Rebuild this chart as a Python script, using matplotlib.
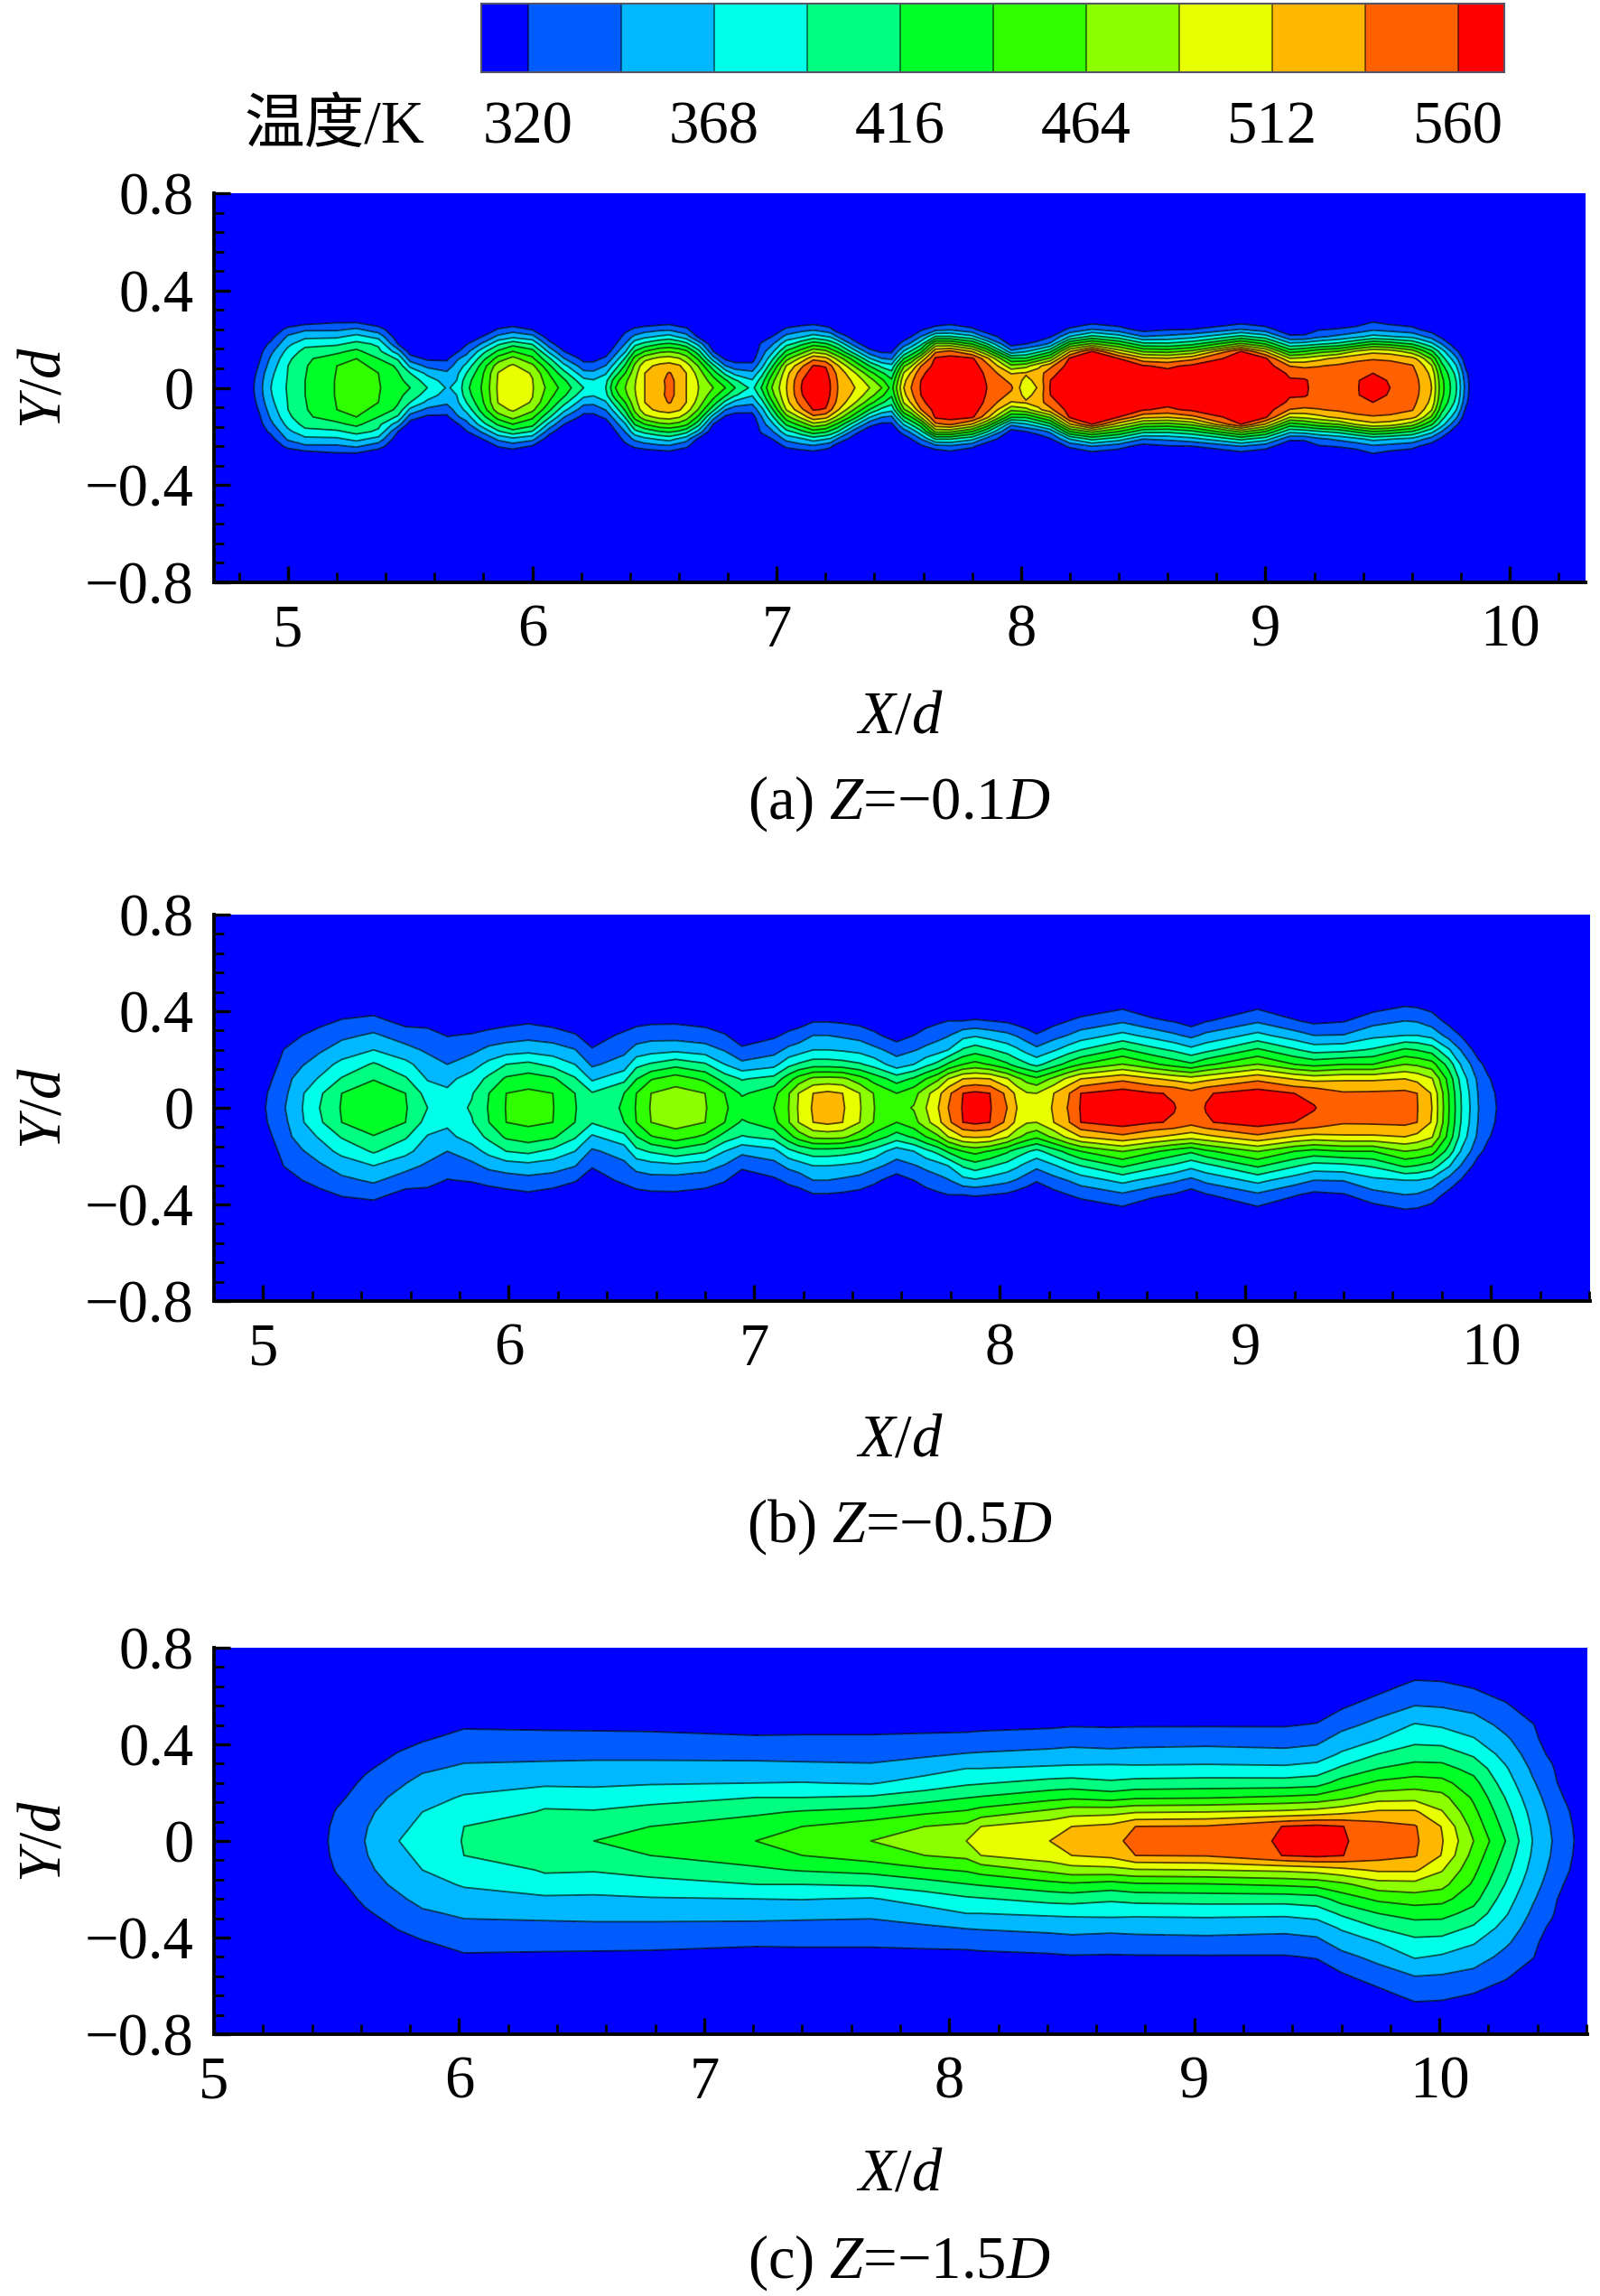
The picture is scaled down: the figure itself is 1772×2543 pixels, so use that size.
import matplotlib
matplotlib.use("Agg")
import matplotlib.pyplot as plt
import numpy as np
from matplotlib.ticker import MultipleLocator

plt.rcParams['font.family'] = ['Liberation Serif', 'Noto Sans CJK SC']
plt.rcParams['mathtext.fontset'] = 'custom'
plt.rcParams['mathtext.rm'] = 'Liberation Serif'
plt.rcParams['mathtext.it'] = 'Liberation Serif:italic'

W, H = 1772, 2543

# colour scale
levels = [320, 344, 368, 392, 416, 440, 464, 488, 512, 536, 560]
band_edges = [308, 320, 344, 368, 392, 416, 440, 464, 488, 512, 536, 560, 572]
band_colors = ['#0000ff', '#005cff', '#00b8ff', '#00ffe8', '#00ff80', '#00ff28',
               '#30ff00', '#8cff00', '#e8ff00', '#ffb800', '#ff6000', '#ff0000']
bar_ticks = [320, 368, 416, 464, 512, 560]

# temperature, each line: X station, then T at the half width rows in Y
y_a = [0, .03, .06, .09, .12, .15, .18, .21, .24, .27, .32]
t_a = [
    [4.60, 300, 300, 300, 300, 300, 300, 300, 300, 300, 300, 300],
    [4.82, 300, 300, 300, 300, 300, 300, 300, 300, 300, 300, 300],
    [4.86, 320, 318, 314, 308, 302, 300, 300, 300, 300, 300, 300],
    [4.93, 368, 366, 362, 355, 348, 338, 325, 312, 300, 300, 300],
    [5.00, 395, 394, 393, 392, 386, 376, 362, 348, 328, 302, 300],
    [5.07, 416, 416, 415, 414, 412, 400, 385, 362, 340, 310, 300],
    [5.20, 442, 442, 441, 440, 428, 410, 388, 364, 340, 318, 300],
    [5.28, 452, 450, 447, 444, 440, 422, 400, 376, 348, 318, 300],
    [5.37, 442, 441, 440, 436, 416, 398, 388, 360, 330, 305, 300],
    [5.45, 425, 422, 418, 410, 388, 355, 320, 305, 300, 300, 300],
    [5.50, 416, 408, 392, 362, 332, 308, 300, 300, 300, 300, 300],
    [5.57, 392, 380, 362, 338, 315, 300, 300, 300, 300, 300, 300],
    [5.65, 366, 358, 348, 332, 315, 300, 300, 300, 300, 300, 300],
    [5.69, 372, 368, 362, 352, 340, 315, 300, 300, 300, 300, 300],
    [5.73, 410, 405, 392, 375, 355, 335, 318, 300, 300, 300, 300],
    [5.80, 445, 443, 440, 430, 410, 385, 350, 322, 300, 300, 300],
    [5.86, 492, 491, 489, 478, 450, 420, 388, 350, 322, 302, 300],
    [5.92, 505, 504, 500, 492, 472, 440, 408, 362, 332, 302, 300],
    [6.00, 490, 489, 486, 470, 445, 425, 390, 352, 318, 300, 300],
    [6.07, 455, 448, 438, 420, 395, 360, 330, 305, 300, 300, 300],
    [6.13, 430, 420, 400, 375, 345, 320, 300, 300, 300, 300, 300],
    [6.21, 392, 375, 352, 330, 312, 300, 300, 300, 300, 300, 300],
    [6.25, 380, 370, 350, 330, 312, 300, 300, 300, 300, 300, 300],
    [6.30, 392, 385, 365, 345, 325, 305, 300, 300, 300, 300, 300],
    [6.34, 440, 430, 405, 380, 355, 335, 318, 303, 300, 300, 300],
    [6.38, 464, 458, 440, 420, 395, 365, 345, 330, 312, 300, 300],
    [6.42, 488, 486, 480, 470, 450, 418, 385, 350, 325, 302, 300],
    [6.46, 512, 512, 512, 505, 480, 440, 400, 362, 332, 303, 300],
    [6.52, 528, 530, 526, 518, 495, 458, 415, 372, 338, 307, 300],
    [6.56, 542, 542, 538, 522, 498, 462, 420, 378, 340, 310, 300],
    [6.60, 530, 530, 526, 515, 490, 455, 412, 365, 330, 305, 300],
    [6.63, 512, 512, 512, 500, 475, 445, 400, 355, 325, 302, 300],
    [6.68, 488, 486, 478, 462, 435, 400, 360, 315, 300, 300, 300],
    [6.74, 464, 450, 430, 400, 355, 320, 300, 300, 300, 300, 300],
    [6.79, 440, 420, 385, 345, 315, 300, 300, 300, 300, 300, 300],
    [6.83, 416, 395, 360, 330, 308, 300, 300, 300, 300, 300, 300],
    [6.90, 385, 370, 350, 328, 310, 300, 300, 300, 300, 300, 300],
    [6.94, 420, 405, 385, 362, 345, 335, 325, 305, 300, 300, 300],
    [6.98, 464, 455, 435, 410, 385, 360, 340, 320, 302, 300, 300],
    [7.04, 512, 510, 505, 490, 455, 420, 385, 352, 325, 302, 300],
    [7.07, 536, 534, 525, 510, 475, 435, 395, 358, 330, 303, 300],
    [7.10, 560, 558, 548, 530, 495, 450, 410, 365, 335, 305, 300],
    [7.15, 580, 578, 572, 562, 530, 480, 430, 380, 340, 310, 300],
    [7.20, 575, 573, 568, 558, 520, 470, 420, 370, 330, 305, 300],
    [7.22, 560, 558, 552, 540, 505, 455, 410, 365, 325, 302, 300],
    [7.25, 536, 534, 530, 515, 480, 435, 392, 342, 305, 300, 300],
    [7.32, 512, 505, 490, 460, 425, 375, 330, 305, 300, 300, 300],
    [7.38, 488, 475, 450, 415, 370, 328, 302, 300, 300, 300, 300],
    [7.43, 464, 445, 420, 385, 345, 315, 300, 300, 300, 300, 300],
    [7.47, 432, 420, 400, 375, 340, 315, 300, 300, 300, 300, 300],
    [7.52, 512, 505, 490, 460, 415, 370, 332, 305, 300, 300, 300],
    [7.55, 536, 530, 515, 485, 440, 395, 350, 320, 302, 300, 300],
    [7.59, 562, 560, 555, 535, 490, 430, 385, 345, 315, 300, 300],
    [7.65, 575, 575, 572, 570, 565, 530, 470, 395, 335, 302, 300],
    [7.71, 585, 585, 583, 580, 572, 540, 470, 395, 340, 310, 300],
    [7.80, 578, 578, 575, 572, 565, 510, 440, 375, 325, 302, 300],
    [7.86, 560, 558, 555, 545, 520, 460, 395, 335, 305, 300, 300],
    [7.96, 540, 530, 510, 470, 420, 350, 310, 300, 300, 300, 300],
    [8.02, 490, 505, 515, 480, 420, 365, 320, 303, 300, 300, 300],
    [8.07, 515, 520, 525, 505, 445, 385, 330, 305, 300, 300, 300],
    [8.12, 562, 560, 550, 530, 470, 410, 350, 318, 300, 300, 300],
    [8.20, 580, 580, 578, 572, 565, 510, 440, 370, 325, 302, 300],
    [8.29, 585, 585, 585, 583, 578, 560, 470, 400, 345, 312, 300],
    [8.40, 580, 580, 578, 572, 560, 500, 440, 380, 330, 305, 300],
    [8.50, 570, 570, 568, 562, 520, 460, 400, 345, 310, 300, 300],
    [8.60, 570, 570, 568, 555, 515, 455, 398, 350, 318, 300, 300],
    [8.70, 578, 578, 575, 565, 530, 470, 410, 360, 320, 302, 300],
    [8.90, 585, 585, 585, 583, 578, 560, 470, 400, 345, 312, 300],
    [9.00, 580, 580, 578, 573, 565, 510, 440, 380, 330, 305, 300],
    [9.10, 564, 562, 556, 535, 490, 430, 375, 325, 302, 300, 300],
    [9.16, 563, 562, 553, 530, 495, 440, 380, 325, 305, 300, 300],
    [9.22, 552, 552, 545, 535, 505, 455, 390, 340, 318, 302, 300],
    [9.30, 545, 545, 545, 540, 520, 465, 400, 350, 322, 305, 300],
    [9.37, 558, 558, 552, 545, 530, 490, 420, 362, 328, 308, 300],
    [9.44, 570, 568, 560, 548, 534, 505, 440, 376, 340, 320, 300],
    [9.51, 560, 558, 552, 545, 532, 500, 432, 370, 335, 312, 300],
    [9.60, 545, 545, 542, 538, 520, 475, 415, 362, 328, 306, 300],
    [9.63, 536, 535, 532, 525, 505, 455, 400, 352, 320, 303, 300],
    [9.68, 512, 510, 505, 490, 460, 420, 375, 335, 308, 300, 300],
    [9.72, 450, 448, 440, 425, 405, 380, 345, 315, 300, 300, 300],
    [9.78, 395, 392, 385, 370, 350, 325, 302, 300, 300, 300, 300],
    [9.82, 335, 332, 326, 315, 305, 300, 300, 300, 300, 300, 300],
    [9.85, 300, 300, 300, 300, 300, 300, 300, 300, 300, 300, 300],
    [10.40, 300, 300, 300, 300, 300, 300, 300, 300, 300, 300, 300],
]

y_b = [0, .06, .12, .18, .24, .30, .36, .42, .50]
t_b = [
    [4.70, 300, 300, 300, 300, 300, 300, 300, 300, 300],
    [4.95, 300, 300, 300, 300, 300, 300, 300, 300, 300],
    [5.01, 320, 318, 312, 306, 300, 300, 300, 300, 300],
    [5.09, 344, 340, 335, 328, 322, 305, 300, 300, 300],
    [5.16, 368, 366, 358, 342, 331, 320, 304, 300, 300],
    [5.23, 392, 388, 370, 358, 340, 330, 312, 300, 300],
    [5.32, 418, 416, 394, 374, 356, 338, 322, 305, 300],
    [5.45, 432, 426, 415, 395, 368, 348, 327, 308, 300],
    [5.58, 418, 416, 395, 375, 352, 332, 312, 300, 300],
    [5.67, 392, 382, 366, 355, 340, 328, 312, 300, 300],
    [5.75, 378, 372, 362, 344, 332, 319, 302, 300, 300],
    [5.85, 395, 390, 378, 358, 338, 322, 305, 300, 300],
    [5.92, 418, 416, 398, 375, 350, 328, 308, 300, 300],
    [5.99, 441, 440, 420, 392, 356, 332, 312, 300, 300],
    [6.08, 452, 445, 428, 398, 360, 336, 316, 302, 300],
    [6.18, 441, 440, 420, 385, 355, 332, 310, 300, 300],
    [6.27, 417, 416, 395, 368, 345, 322, 304, 300, 300],
    [6.34, 405, 394, 364, 340, 322, 308, 300, 300, 300],
    [6.47, 418, 416, 385, 355, 338, 325, 306, 300, 300],
    [6.52, 442, 440, 415, 385, 352, 332, 312, 300, 300],
    [6.58, 466, 464, 438, 395, 358, 335, 315, 300, 300],
    [6.68, 478, 474, 452, 408, 362, 334, 316, 302, 300],
    [6.80, 466, 464, 435, 395, 355, 330, 312, 300, 300],
    [6.88, 442, 440, 405, 368, 342, 322, 304, 300, 300],
    [6.95, 432, 412, 390, 350, 325, 305, 300, 300, 300],
    [7.08, 440, 432, 400, 360, 335, 316, 302, 300, 300],
    [7.14, 464, 462, 430, 385, 350, 325, 308, 300, 300],
    [7.18, 490, 488, 450, 395, 356, 330, 310, 300, 300],
    [7.24, 515, 512, 470, 405, 368, 344, 318, 302, 300],
    [7.30, 526, 518, 472, 405, 368, 344, 318, 302, 300],
    [7.36, 515, 512, 470, 402, 365, 340, 316, 300, 300],
    [7.43, 490, 488, 450, 395, 360, 335, 312, 300, 300],
    [7.49, 464, 462, 430, 382, 350, 325, 306, 300, 300],
    [7.58, 455, 440, 405, 355, 335, 308, 300, 300, 300],
    [7.65, 466, 455, 420, 368, 342, 320, 303, 300, 300],
    [7.70, 488, 480, 440, 385, 350, 330, 310, 300, 300],
    [7.75, 512, 505, 460, 400, 358, 336, 316, 302, 300],
    [7.79, 536, 530, 488, 420, 368, 342, 320, 304, 300],
    [7.85, 562, 560, 512, 440, 395, 360, 320, 302, 300],
    [7.90, 572, 566, 515, 448, 405, 365, 322, 302, 300],
    [7.96, 562, 560, 512, 438, 395, 358, 320, 302, 300],
    [8.03, 536, 530, 490, 420, 382, 350, 316, 300, 300],
    [8.07, 512, 505, 470, 405, 372, 342, 310, 300, 300],
    [8.11, 495, 490, 455, 395, 360, 332, 305, 300, 300],
    [8.15, 492, 488, 445, 385, 350, 322, 302, 300, 300],
    [8.22, 515, 512, 470, 405, 365, 335, 312, 300, 300],
    [8.28, 538, 534, 495, 425, 380, 345, 320, 303, 300],
    [8.33, 562, 560, 512, 440, 392, 355, 326, 305, 300],
    [8.50, 578, 572, 530, 465, 420, 375, 340, 315, 300],
    [8.62, 568, 562, 515, 445, 400, 360, 325, 302, 300],
    [8.71, 561, 558, 505, 430, 388, 348, 318, 300, 300],
    [8.78, 550, 545, 498, 420, 375, 338, 308, 300, 300],
    [8.84, 561, 558, 505, 435, 385, 350, 318, 302, 300],
    [9.05, 578, 572, 530, 465, 420, 375, 340, 315, 300],
    [9.20, 566, 560, 510, 440, 395, 355, 322, 302, 300],
    [9.28, 561, 556, 503, 432, 382, 344, 314, 300, 300],
    [9.40, 548, 539, 508, 440, 385, 345, 318, 300, 300],
    [9.52, 550, 540, 508, 440, 395, 362, 335, 310, 300],
    [9.65, 552, 542, 512, 464, 420, 368, 344, 320, 300],
    [9.70, 537, 536, 505, 460, 415, 368, 342, 318, 300],
    [9.76, 512, 510, 490, 450, 405, 360, 332, 312, 300],
    [9.83, 440, 438, 430, 405, 370, 335, 312, 300, 300],
    [9.88, 392, 390, 382, 365, 342, 318, 304, 300, 300],
    [9.95, 344, 342, 338, 326, 308, 300, 300, 300, 300],
    [9.99, 330, 328, 322, 312, 302, 300, 300, 300, 300],
    [10.03, 318, 316, 312, 306, 300, 300, 300, 300, 300],
    [10.10, 300, 300, 300, 300, 300, 300, 300, 300, 300],
    [10.50, 300, 300, 300, 300, 300, 300, 300, 300, 300],
]

y_c = [0, .06, .12, .18, .24, .30, .36, .42, .48, .56, .64, .72]
t_c = [
    [4.90, 300, 300, 300, 300, 300, 300, 300, 300, 300, 300, 300, 300],
    [5.40, 300, 300, 300, 300, 300, 300, 300, 300, 300, 300, 300, 300],
    [5.465, 320, 318, 314, 308, 302, 300, 300, 300, 300, 300, 300, 300],
    [5.50, 329, 328, 322, 314, 306, 300, 300, 300, 300, 300, 300, 300],
    [5.615, 344, 342, 338, 332, 325, 316, 305, 300, 300, 300, 300, 300],
    [5.755, 368, 364, 358, 350, 340, 332, 322, 310, 300, 300, 300, 300],
    [5.85, 378, 372, 368, 360, 352, 340, 330, 318, 305, 300, 300, 300],
    [6.02, 393, 392, 378, 370, 360, 348, 337, 328, 317, 300, 300, 300],
    [6.35, 405, 398, 394, 385, 363, 350, 338, 327, 316, 300, 300, 300],
    [6.55, 416, 405, 394, 378, 364, 352, 338, 326, 316, 300, 300, 300],
    [6.78, 422, 416, 400, 384, 366, 352, 338, 326, 315, 300, 300, 300],
    [7.21, 440, 428, 412, 392, 368, 352, 337, 324, 310, 300, 300, 300],
    [7.40, 447, 440, 418, 392, 369, 351, 336, 325, 310, 300, 300, 300],
    [7.68, 464, 452, 424, 395, 366, 350, 334, 325, 310, 300, 300, 300],
    [7.90, 476, 464, 436, 405, 378, 358, 340, 327, 311, 300, 300, 300],
    [8.07, 488, 470, 443, 415, 388, 368, 345, 328, 312, 300, 300, 300],
    [8.13, 500, 488, 450, 418, 390, 368, 346, 330, 313, 300, 300, 300],
    [8.41, 512, 502, 470, 432, 400, 372, 350, 333, 316, 300, 300, 300],
    [8.50, 520, 512, 478, 436, 402, 373, 352, 335, 318, 300, 300, 300],
    [8.66, 532, 518, 480, 430, 396, 374, 352, 330, 318, 300, 300, 300],
    [8.76, 540, 536, 486, 436, 400, 373, 352, 334, 318, 300, 300, 300],
    [9.05, 550, 538, 488, 438, 402, 374, 353, 336, 318, 300, 300, 300],
    [9.37, 562, 561, 493, 444, 402, 373, 350, 335, 318, 300, 300, 300],
    [9.50, 572, 566, 498, 448, 406, 378, 354, 338, 322, 302, 300, 300],
    [9.60, 562, 561, 505, 458, 426, 396, 371, 353, 337, 316, 300, 300],
    [9.75, 552, 546, 516, 478, 445, 416, 392, 368, 351, 332, 311, 300],
    [9.90, 540, 538, 516, 480, 452, 425, 405, 385, 370, 344, 327, 305],
    [10.01, 514, 511, 490, 472, 448, 424, 404, 383, 365, 342, 325, 305],
    [10.14, 464, 455, 446, 436, 424, 408, 388, 370, 356, 336, 318, 300],
    [10.27, 416, 408, 400, 391, 380, 371, 359, 348, 337, 324, 303, 300],
    [10.38, 368, 365, 360, 353, 347, 340, 333, 328, 322, 303, 300, 300],
    [10.46, 344, 342, 338, 334, 328, 323, 314, 304, 300, 300, 300, 300],
    [10.52, 330, 328, 324, 316, 306, 300, 300, 300, 300, 300, 300, 300],
    [10.55, 320, 318, 314, 308, 302, 300, 300, 300, 300, 300, 300, 300],
    [10.65, 300, 300, 300, 300, 300, 300, 300, 300, 300, 300, 300, 300],
]

# pixel box, x limits, label offsets under the axes of each panel
panels = [
    {'y': y_a, 't': t_a, 'box': (237, 1756, 214, 645), 'xlim': (4.697, 10.31),
     'xlab': 150, 'capt': 245, 'cap': '(a) $Z$=\u22120.1$D$'},
    {'y': y_b, 't': t_b, 'box': (237, 1761, 1013, 1441), 'xlim': (4.80, 10.404),
     'xlab': 155, 'capt': 250, 'cap': '(b) $Z$=\u22120.5$D$'},
    {'y': y_c, 't': t_c, 'box': (237, 1758, 1825, 2253), 'xlim': (5.0, 10.604),
     'xlab': 156, 'capt': 253, 'cap': '(c) $Z$=\u22121.5$D$'},
]
xticks = [5, 6, 7, 8, 9, 10]
yticks = [-0.8, -0.4, 0, 0.4, 0.8]
ytick_labels = ['\u22120.8', '\u22120.4', '0', '0.4', '0.8']
FS = 48


def mirror(y_half, table):
    # stations as lines -> field with Y rows, same above and below the centre line
    table = np.array(table, dtype=float)
    x = table[:, 0]
    t = table[:, 1:].T
    y = np.array(y_half)
    yy = np.concatenate([[-0.9], -y[:0:-1], y, [0.9]])
    tt = np.vstack([t[-1], t[:0:-1], t, t[-1]])
    return x, yy, tt


def add_axes_px(x0, x1, y0, y1):
    return fig.add_axes([x0 / W, 1 - y1 / H, (x1 - x0) / W, (y1 - y0) / H])


fig = plt.figure(figsize=(W / 100, H / 100), dpi=100)

# colour bar
cax = add_axes_px(533, 1666, 4, 80)
cax.pcolormesh(band_edges, [0, 1], np.array([[e + 1 for e in band_edges[:-1]]]),
               cmap=matplotlib.colors.ListedColormap(band_colors),
               norm=matplotlib.colors.BoundaryNorm(band_edges, len(band_colors)))
for lev in levels:
    cax.axvline(lev, color='k', lw=1.2, alpha=0.6)
cax.set_xlim(band_edges[0], band_edges[-1])
cax.set_yticks([])
cax.set_xticks(bar_ticks)
cax.set_xticklabels([str(v) for v in bar_ticks], fontsize=FS)
cax.tick_params(axis='x', length=0, pad=23)
for s in cax.spines.values():
    s.set_color('#555566')
    s.set_linewidth(1.5)
fig.text(370 / W, 1 - 141 / H, '温度/K', fontsize=FS, ha='center', va='center')

for p in panels:
    x0, x1, y0, y1 = p['box']
    ax = add_axes_px(x0, x1, y0, y1)
    xx, yy, tt = mirror(p['y'], p['t'])
    ax.set_facecolor(band_colors[0])
    ax.contourf(xx, yy, tt, levels=[200] + levels + [700], colors=band_colors)
    ax.contour(xx, yy, tt, levels=levels, colors='k', linewidths=1.3, alpha=0.65)
    ax.set_xlim(*p['xlim'])
    ax.set_ylim(-0.8, 0.8)
    ax.set_xticks(xticks)
    ax.set_yticks(yticks)
    ax.set_yticklabels(ytick_labels)
    ax.xaxis.set_minor_locator(MultipleLocator(0.2))
    ax.yaxis.set_minor_locator(MultipleLocator(0.08))
    ax.tick_params(which='major', direction='in', length=13, width=2.4, labelsize=FS)
    ax.tick_params(which='minor', direction='in', length=8, width=2.0)
    ax.tick_params(axis='x', which='major', pad=17)
    ax.tick_params(axis='y', which='major', pad=16)
    ax.spines['top'].set_visible(False)
    ax.spines['right'].set_visible(False)
    ax.spines['left'].set_linewidth(2.8)
    ax.spines['bottom'].set_linewidth(2.8)
    fig.text(996 / W, 1 - (y1 + p['xlab']) / H, r'$X/d$', fontsize=FS, ha='center', va='center')
    fig.text(996 / W, 1 - (y1 + p['capt']) / H, p['cap'], fontsize=FS, ha='center', va='center')
    fig.text(50 / W, 1 - (y0 + y1) / 2 / H, r'$Y/d$', fontsize=FS, rotation=90, ha='center', va='center')

fig.savefig('out.png', dpi=100)
